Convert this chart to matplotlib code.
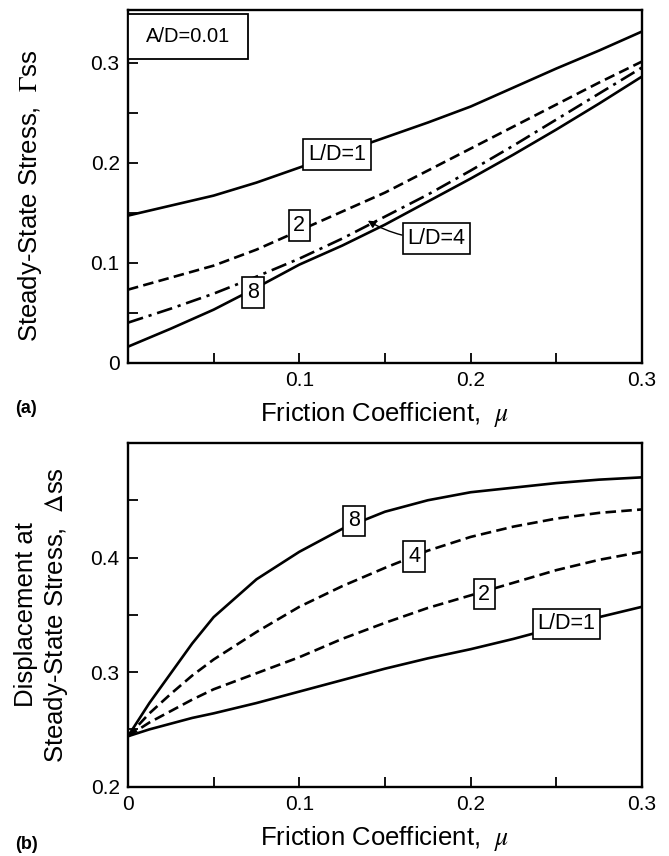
import matplotlib
matplotlib.use("Agg")
import matplotlib.pyplot as plt
from matplotlib.patches import Rectangle

plt.rcParams['font.family'] = ['Liberation Sans', 'DejaVu Sans']
plt.rcParams['mathtext.fontset'] = 'stix'

# (a) steady-state stress vs friction coefficient, A/D=0.01
mu_a = [0.0, 0.025, 0.05, 0.075, 0.1, 0.125, 0.15, 0.175, 0.2, 0.225, 0.25, 0.275, 0.3]
gam_ld1 = [0.147, 0.157, 0.167, 0.180, 0.195, 0.210, 0.225, 0.240, 0.256, 0.275, 0.294, 0.312, 0.331]
gam_ld2 = [0.073, 0.085, 0.097, 0.113, 0.132, 0.151, 0.170, 0.192, 0.214, 0.236, 0.258, 0.280, 0.301]
gam_ld4 = [0.040, 0.054, 0.069, 0.086, 0.104, 0.124, 0.146, 0.168, 0.192, 0.217, 0.243, 0.269, 0.295]
gam_ld8 = [0.016, 0.034, 0.053, 0.075, 0.098, 0.117, 0.138, 0.161, 0.184, 0.208, 0.233, 0.259, 0.286]

# (b) displacement at steady-state stress vs friction coefficient
mu_b = [0.0, 0.0125, 0.025, 0.0375, 0.05, 0.075, 0.1, 0.125, 0.15, 0.175, 0.2, 0.225, 0.25, 0.275, 0.3]
dis_ld1 = [0.244, 0.250, 0.255, 0.260, 0.264, 0.273, 0.283, 0.293, 0.303, 0.312, 0.320, 0.329, 0.339, 0.348, 0.357]
dis_ld2 = [0.244, 0.256, 0.266, 0.276, 0.285, 0.299, 0.313, 0.329, 0.343, 0.356, 0.367, 0.378, 0.389, 0.398, 0.405]
dis_ld4 = [0.244, 0.264, 0.281, 0.297, 0.311, 0.335, 0.357, 0.375, 0.391, 0.406, 0.418, 0.427, 0.434, 0.439, 0.442]
dis_ld8 = [0.244, 0.273, 0.299, 0.325, 0.348, 0.381, 0.405, 0.425, 0.440, 0.450, 0.457, 0.461, 0.465, 0.468, 0.470]

xticks = [0.0, 0.05, 0.1, 0.15, 0.2, 0.25, 0.3]
xticklabels_a = ['', '', '0.1', '', '0.2', '', '0.3']
xticklabels_b = ['0', '', '0.1', '', '0.2', '', '0.3']
yticks_a = [0.0, 0.05, 0.1, 0.15, 0.2, 0.25, 0.3]
yticklabels_a = ['0', '', '0.1', '', '0.2', '', '0.3']
yticks_b = [0.2, 0.25, 0.3, 0.35, 0.4, 0.45]
yticklabels_b = ['0.2', '', '0.3', '', '0.4', '']

fig = plt.figure(figsize=(6.69, 8.56), dpi=100)
ax1 = fig.add_axes([0.1913, 0.5763, 0.7683, 0.4126])
ax2 = fig.add_axes([0.1913, 0.0810, 0.7683, 0.4015])

lw = 1.9
dash = (4, 2)
dashdot = (6, 2.2, 1.2, 2.2)

ax1.plot(mu_a, gam_ld1, color='black', lw=lw)
ax1.plot(mu_a, gam_ld2, color='black', lw=lw, dashes=dash)
ax1.plot(mu_a, gam_ld4, color='black', lw=lw, dashes=dashdot)
ax1.plot(mu_a, gam_ld8, color='black', lw=lw)
ax1.set_xlim(0, 0.3)
ax1.set_ylim(0, 0.353)

ax2.plot(mu_b, dis_ld1, color='black', lw=lw)
ax2.plot(mu_b, dis_ld2, color='black', lw=lw, dashes=dash)
ax2.plot(mu_b, dis_ld4, color='black', lw=lw, dashes=dash)
ax2.plot(mu_b, dis_ld8, color='black', lw=lw)
ax2.set_xlim(0, 0.3)
ax2.set_ylim(0.2, 0.5)

for ax, xl, yt, yl in [(ax1, xticklabels_a, yticks_a, yticklabels_a),
                       (ax2, xticklabels_b, yticks_b, yticklabels_b)]:
    ax.set_xticks(xticks)
    ax.set_xticklabels(xl)
    ax.set_yticks(yt)
    ax.set_yticklabels(yl)
    ax.tick_params(direction='in', length=7, width=1.3, labelsize=15, pad=6)
    for s in ax.spines.values():
        s.set_linewidth(1.7)
    ax.set_xlabel(r'Friction Coefficient,  $\mu$', fontsize=18.5, labelpad=7)

bbox = dict(boxstyle='square,pad=0.22', fc='white', ec='black', lw=1.2)
ts = 15.5

# panel (a) labels
ax1.add_patch(Rectangle((0.0, 0.304), 0.07, 0.045, fc='white', ec='black', lw=1.3, zorder=5))
ax1.text(0.035, 0.3265, 'A/D=0.01', fontsize=14.5, ha='center', va='center', zorder=6)
ax1.text(0.122, 0.208, 'L/D=1', fontsize=ts, ha='center', va='center', bbox=bbox, zorder=6)
ax1.text(0.100, 0.137, '2', fontsize=ts, ha='center', va='center', bbox=bbox, zorder=6)
ax1.text(0.073, 0.070, '8', fontsize=ts, ha='center', va='center', bbox=bbox, zorder=6)
ax1.annotate('L/D=4', xy=(0.140, 0.142), xytext=(0.180, 0.124), fontsize=ts,
             ha='center', va='center', bbox=bbox, zorder=6,
             arrowprops=dict(arrowstyle='-|>', color='black', lw=1.0, mutation_scale=11,
                             shrinkA=0, shrinkB=0, connectionstyle='arc3,rad=-0.15'))

# panel (b) labels
ax2.text(0.256, 0.342, 'L/D=1', fontsize=ts, ha='center', va='center', bbox=bbox, zorder=6)
ax2.text(0.208, 0.368, '2', fontsize=ts, ha='center', va='center', bbox=bbox, zorder=6)
ax2.text(0.167, 0.401, '4', fontsize=ts, ha='center', va='center', bbox=bbox, zorder=6)
ax2.text(0.132, 0.432, '8', fontsize=ts, ha='center', va='center', bbox=bbox, zorder=6)

fig.text(0.045, 0.771, r'Steady-State Stress,  $\Gamma$ss', rotation=90, fontsize=18.5,
         ha='center', va='center')
fig.text(0.063, 0.282, 'Displacement at\n' + r'Steady-State Stress,  $\Delta$ss', rotation=90,
         fontsize=18.5, ha='center', va='center', linespacing=1.2)

fig.text(0.022, 0.523, '(a)', fontsize=13, fontweight='bold', ha='left', va='center')
fig.text(0.022, 0.013, '(b)', fontsize=13, fontweight='bold', ha='left', va='center')

fig.savefig('out.png', dpi=100)
